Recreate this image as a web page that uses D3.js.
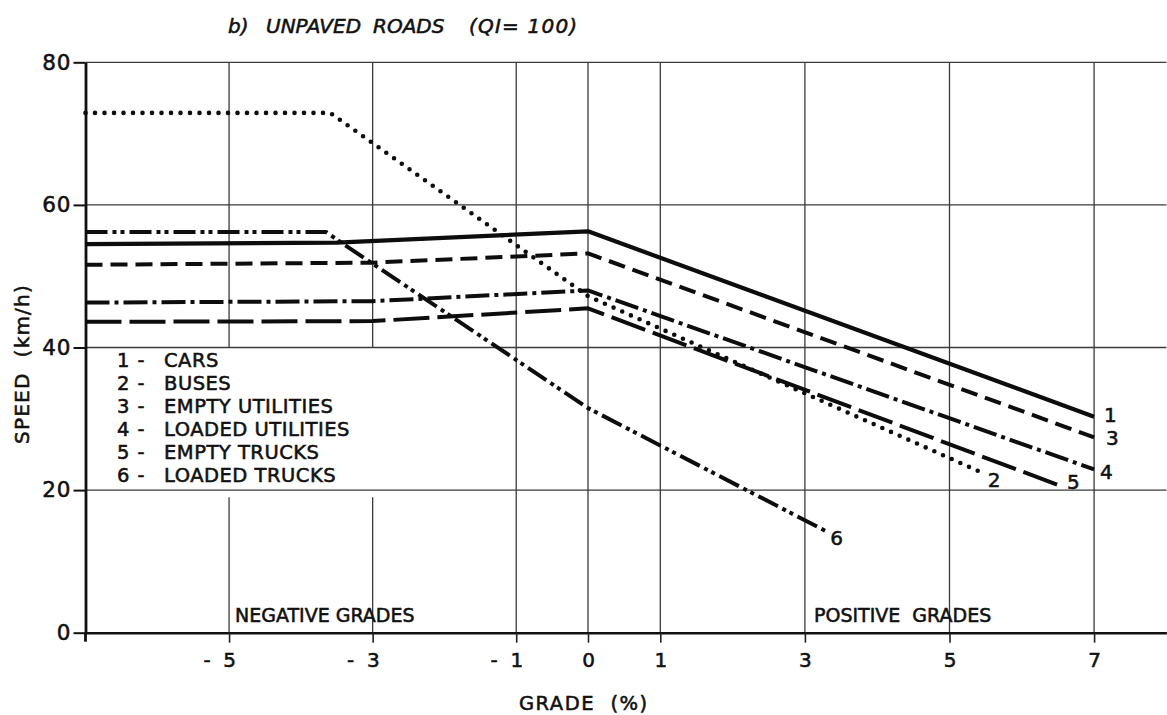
<!DOCTYPE html>
<html>
<head>
<meta charset="utf-8">
<script src="https://cdn.jsdelivr.net/npm/d3@7"></script>
<style>
  body { margin: 0; background: #fff; }
  svg text { font-family: "DejaVu Sans", sans-serif; fill: #111; stroke: #111; stroke-width: 0.55px; }
</style>
</head>
<body>
<div id="chart"></div>
<script>
// speed vs grade, unpaved roads (QI = 100)
const vehicleNames = ["CARS", "BUSES", "EMPTY UTILITIES", "LOADED UTILITIES", "EMPTY TRUCKS", "LOADED TRUCKS"];
const vehicleIds = ["1", "2", "3", "4", "5", "6"];

// [grade %, speed km/h]
const carsSpeed = [[-7, 54.5], [-3.5, 54.7], [0, 56.3], [7, 30.3]];
const busesSpeed = [[-7, 72.9], [-3.59, 72.9], [0, 47.2], [5.46, 22.4]];
const emptyUtilitiesSpeed = [[-7, 51.6], [-3, 51.9], [0, 53.2], [7, 27.4]];
const loadedUtilitiesSpeed = [[-7, 46.3], [-3, 46.5], [0, 48.0], [7, 22.9]];
const emptyTrucksSpeed = [[-7, 43.6], [-3, 43.7], [0, 45.5], [6.53, 20.6]];
const loadedTrucksSpeed = [[-7, 56.2], [-3.65, 56.2], [-3.45, 54.8], [0, 31.5], [3.28, 14.3]];

const gradeTicks = [-5, -3, -1, 0, 1, 3, 5, 7];
const speedTicks = [0, 20, 40, 60, 80];

const allSeries = [carsSpeed, busesSpeed, emptyUtilitiesSpeed, loadedUtilitiesSpeed, emptyTrucksSpeed, loadedTrucksSpeed];

// line styles (same order as series)
const lineStyles = [
    {dash: null, width: 4.2, cap: "butt"},
    {dash: "0 9.5", width: 4.6, cap: "round"},
    {dash: "17 8", width: 4, cap: "butt"},
    {dash: "24 5 4 5", width: 4, cap: "butt"},
    {dash: "36 8", width: 4, cap: "butt"},
    {dash: "22 5 4 4 4 5", width: 4, cap: "butt"}
];
// end label offsets from last point
const endLabelOffsets = [[10, 5], [5, 14], [12, 8], [6, 10], [7, 3], [5, 14]];

const width = 1167, height = 715;

const svg = d3.select("#chart").append("svg")
    .attr("width", width)
    .attr("height", height);

const x = d3.scaleLinear().domain([-7, 0, 8]).range([85.5, 588, 1166.4]);
const y = d3.scaleLinear().domain([0, 80]).range([632.7, 62.3]);

const gridColor = "#3a3a3a";

// horizontal grid lines
svg.append("g").selectAll("line")
    .data(speedTicks.filter(d => d > 0))
    .enter().append("line")
    .attr("x1", x(-7)).attr("x2", x(8))
    .attr("y1", d => y(d)).attr("y2", d => y(d))
    .attr("stroke", gridColor)
    .attr("stroke-width", 1.3);

// vertical grid lines (left ones broken behind the legend)
const vSegments = [];
gradeTicks.forEach(g => {
    if (g === -5 || g === -3) {
        vSegments.push({g: g, from: 40, to: 80});
        vSegments.push({g: g, from: 0, to: 19});
    } else {
        vSegments.push({g: g, from: 0, to: 80});
    }
});
svg.append("g").selectAll("line")
    .data(vSegments)
    .enter().append("line")
    .attr("x1", d => x(d.g)).attr("x2", d => x(d.g))
    .attr("y1", d => y(d.from)).attr("y2", d => y(d.to))
    .attr("stroke", gridColor)
    .attr("stroke-width", 1.3);

// axes
const xAxis = svg.append("g")
    .attr("transform", `translate(0, ${y(0)})`)
    .call(d3.axisBottom(x)
        .tickValues(gradeTicks)
        .tickSize(10)
        .tickSizeOuter(0)
        .tickPadding(10)
        .tickFormat(d => d < 0 ? "- " + Math.abs(d) : d));
xAxis.select(".domain").attr("stroke", "#111").attr("stroke-width", 2.6);
xAxis.selectAll(".tick line").attr("stroke", "#222").attr("stroke-width", 1.6);
xAxis.selectAll(".tick text")
    .attr("font-size", 20)
    .attr("fill", "#111")
    .attr("text-anchor", d => d < 0 ? "end" : "middle")
    .attr("dx", d => d < 0 ? 6.5 : 0)
    .style("white-space", "pre")
    .text(d => d < 0 ? "-  " + Math.abs(d) : d);

const yAxis = svg.append("g")
    .attr("transform", `translate(${x(-7)}, 0)`)
    .call(d3.axisLeft(y)
        .tickValues(speedTicks)
        .tickSize(12)
        .tickSizeOuter(0)
        .tickPadding(2));
yAxis.select(".domain").attr("stroke", "#111").attr("stroke-width", 2.8);
yAxis.selectAll(".tick line").attr("stroke", "#111").attr("stroke-width", 2);
yAxis.selectAll(".tick text").attr("font-size", 21.5).attr("fill", "#111").attr("letter-spacing", 1);

// left axis runs a little below zero
svg.append("line")
    .attr("x1", x(-7)).attr("x2", x(-7))
    .attr("y1", y(0)).attr("y2", y(0) + 9)
    .attr("stroke", "#111").attr("stroke-width", 2.8);

// series lines
const line = d3.line()
    .x(d => x(d[0]))
    .y(d => y(d[1]));

svg.append("g").selectAll("path")
    .data(allSeries)
    .enter().append("path")
    .attr("d", line)
    .attr("fill", "none")
    .attr("stroke", "#0d0d0d")
    .attr("stroke-width", (d, i) => lineStyles[i].width)
    .attr("stroke-linecap", (d, i) => lineStyles[i].cap)
    .attr("stroke-linejoin", "round")
    .attr("stroke-dasharray", (d, i) => lineStyles[i].dash);

// number at the end of each line
svg.append("g").selectAll("text")
    .data(allSeries)
    .enter().append("text")
    .attr("x", (d, i) => x(d[d.length - 1][0]) + endLabelOffsets[i][0])
    .attr("y", (d, i) => y(d[d.length - 1][1]) + endLabelOffsets[i][1])
    .attr("font-size", 20)
    .text((d, i) => vehicleIds[i]);

// legend
const legend = svg.append("g");
vehicleNames.forEach((name, i) => {
    legend.append("text")
        .attr("x", 117).attr("y", 366.7 + i * 23)
        .attr("font-size", 19.5)
        .attr("letter-spacing", 1)
        .text(vehicleIds[i] + " -");
    legend.append("text")
        .attr("x", 164).attr("y", 366.7 + i * 23)
        .attr("font-size", 19.5)
        .attr("letter-spacing", 0.5)
        .text(name);
});

// title
const title = svg.append("text")
    .attr("y", 33)
    .attr("font-size", 20)
    .attr("font-style", "italic");
title.append("tspan").attr("x", 228).text("b)");
title.append("tspan").attr("x", 266).text("UNPAVED");
title.append("tspan").attr("x", 373).text("ROADS");
title.append("tspan").attr("x", 469).attr("letter-spacing", 1.2).text("(QI= 100)");

// region labels
svg.append("text")
    .attr("x", 235).attr("y", 621.7)
    .attr("font-size", 19)
    .text("NEGATIVE GRADES");
svg.append("text")
    .attr("x", 814).attr("y", 621.7)
    .attr("font-size", 19)
    .style("white-space", "pre")
    .text("POSITIVE  GRADES");

// axis titles
svg.append("text")
    .attr("x", 519).attr("y", 710)
    .attr("font-size", 19.5)
    .attr("letter-spacing", 1.5)
    .style("white-space", "pre")
    .text("GRADE  (%)");

svg.append("text")
    .attr("transform", "translate(28.5, 364) rotate(-90)")
    .attr("text-anchor", "middle")
    .attr("font-size", 20)
    .attr("letter-spacing", 1.2)
    .style("white-space", "pre")
    .text("SPEED  (km/h)");
</script>
</body>
</html>
